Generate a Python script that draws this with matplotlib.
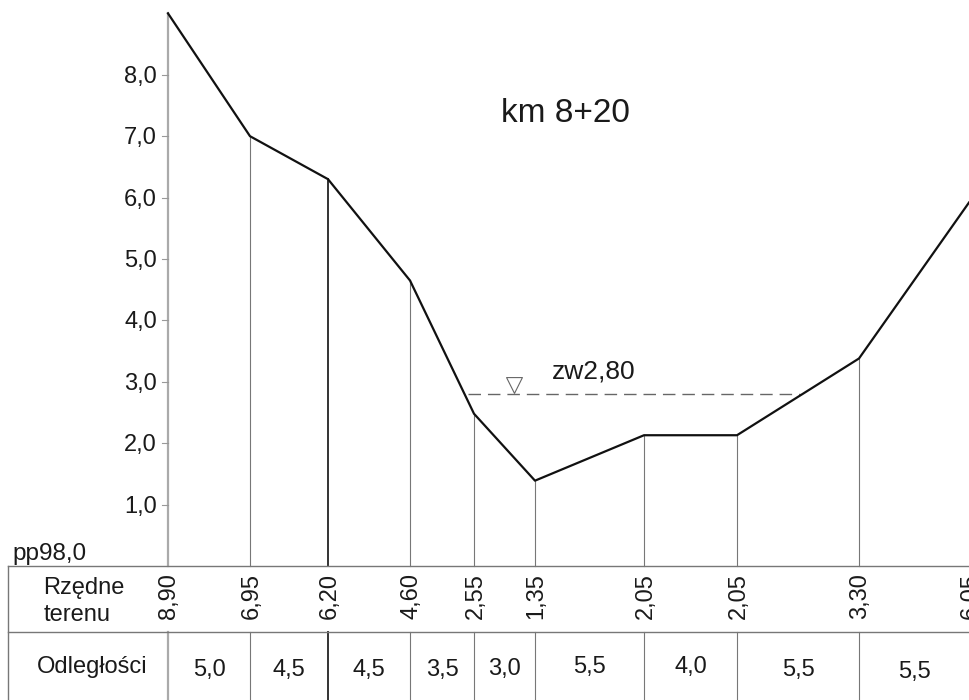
import matplotlib
matplotlib.use("Agg")
import matplotlib.pyplot as plt

plt.rcParams['font.family'] = ['Liberation Sans', 'DejaVu Sans']

# stations along the section
stations = [168, 250, 328, 410, 474, 535, 644, 737, 859, 969]
# terrain as drawn (sits slightly off the written ordinates)
terrain = [9.0, 7.0, 6.3, 4.65, 2.48, 1.39, 2.13, 2.13, 3.38, 5.92]
ordinates = ['8,90', '6,95', '6,20', '4,60', '2,55', '1,35', '2,05', '2,05', '3,30', '6,05']
distances = ['5,0', '4,5', '4,5', '3,5', '3,0', '5,5', '4,0', '5,5', '5,5']
distance_y = [-1.70, -1.70, -1.69, -1.69, -1.67, -1.64, -1.65, -1.69, -1.72]

y_ticks = [1, 2, 3, 4, 5, 6, 7, 8]
water_level = 2.80
water_from, water_to = 468, 800

TEXT = '#1a1a1a'
GRID = '#777777'

fig = plt.figure(figsize=(9.69, 7.0), dpi=100)
ax = fig.add_axes([0, 0, 1, 1])
ax.set_xlim(0, 969)
ax.set_ylim(-2.182, 9.218)
ax.axis('off')

# Verticals from datum up to the terrain
for i, (x, y) in enumerate(zip(stations, terrain)):
    lw = 1.4 if i == 2 else 0.8
    col = '#333333' if i == 2 else GRID
    if i == 0:
        lw, col = 1.6, '#aaaaaa'
    if i < len(stations) - 1:  # last station falls on the sheet edge
        ax.plot([x, x], [0, y], color=col, lw=lw, zorder=1)
        ax.plot([x, x], [-1.08, -2.182], color=col, lw=lw, zorder=1)
    ax.text(x + 1.5, -0.49, ordinates[i], rotation=90, ha='center', va='center',
            fontsize=17, color=TEXT)

# Terrain line
ax.plot(stations, terrain, color='#111111', lw=1.6, zorder=3)

# Water level
ax.plot([water_from, water_to], [water_level, water_level], color='#666666',
        lw=1.0, dashes=(9, 5), zorder=2)
ax.scatter([514], [water_level + 0.14], marker='v', s=130, facecolor='white',
           edgecolor='#666666', linewidth=0.8, zorder=4)
ax.text(552, water_level + 0.37, 'zw2,80', fontsize=19, color=TEXT, va='center')

# Elevation labels and short ticks
for t in y_ticks:
    ax.plot([162, 168], [t, t], color='#999999', lw=0.8, zorder=1)
    ax.text(157, t - 0.13, f'{t},0', ha='right', va='baseline', fontsize=17, color=TEXT)

ax.text(501, 7.37, 'km 8+20', fontsize=24, color=TEXT, va='center')

# Table below the profile
ax.plot([8, 969], [0, 0], color=GRID, lw=1.0)
ax.plot([8, 969], [-1.08, -1.08], color=GRID, lw=1.0)
ax.plot([8, 8], [0, -2.182], color=GRID, lw=1.0)

ax.text(12, 0.2, 'pp98,0', fontsize=17.5, color=TEXT, va='center')
ax.text(84, -0.35, 'Rzędne', fontsize=17, color=TEXT, ha='center', va='center')
ax.text(77, -0.79, 'terenu', fontsize=17, color=TEXT, ha='center', va='center')
ax.text(92, -1.65, 'Odległości', fontsize=17, color=TEXT, ha='center', va='center')

for i, label in enumerate(distances):
    mid = (stations[i] + stations[i + 1]) / 2
    ax.text(mid, distance_y[i], label, fontsize=17, color=TEXT, ha='center', va='center')

fig.savefig('out.png', dpi=100)
